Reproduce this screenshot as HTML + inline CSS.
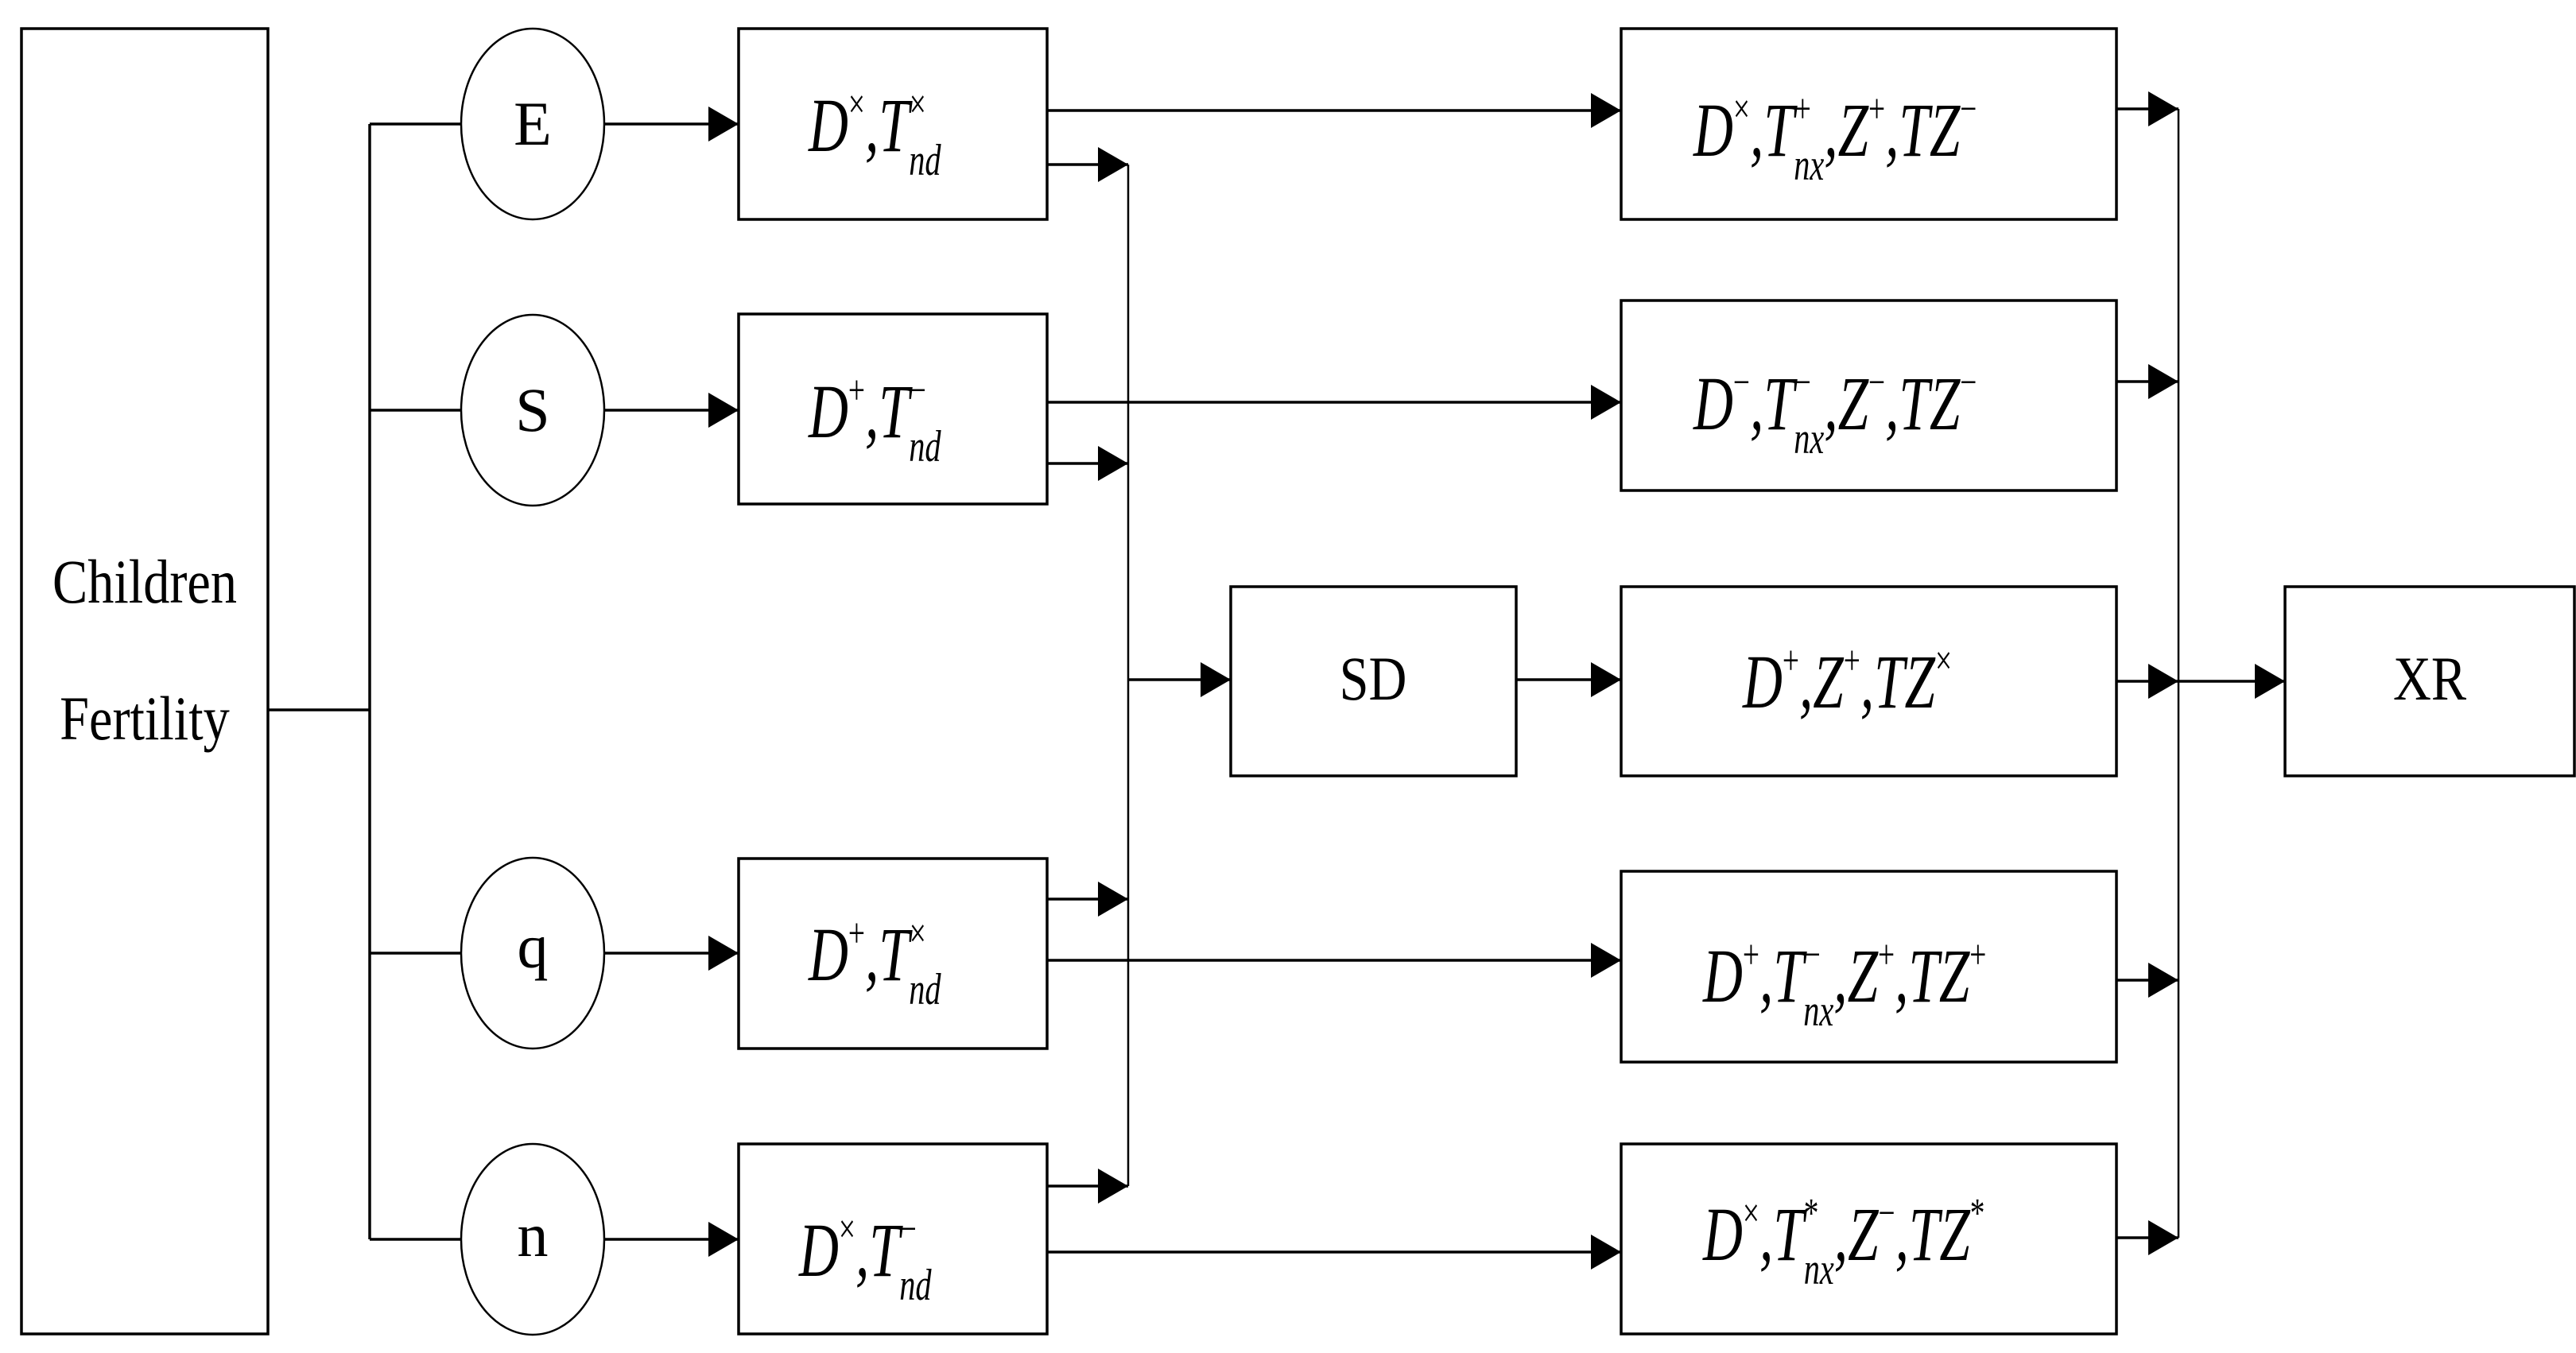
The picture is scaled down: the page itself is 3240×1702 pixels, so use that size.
<!DOCTYPE html>
<html><head><meta charset="utf-8"><style>
html,body{margin:0;padding:0;background:#fff;}
svg{display:block;}
text{font-family:"Liberation Serif",serif;fill:#000;}
</style></head><body>
<svg width="3240" height="1702" viewBox="0 0 3240 1702" xmlns="http://www.w3.org/2000/svg">
<defs>
<marker id="a" markerWidth="38" markerHeight="44" refX="38" refY="22" orient="auto" markerUnits="userSpaceOnUse">
<path d="M0,0 L38,22 L0,44 Z" fill="#000"/>
</marker>
</defs>
<g fill="none" stroke="#000" stroke-width="3.5">
<!-- left box -->
<rect x="27" y="36" width="310" height="1642"/>
<!-- trunk -->
<line x1="337" y1="893" x2="465" y2="893"/>
<line x1="465" y1="156" x2="465" y2="1559"/>
<line x1="465" y1="156" x2="580" y2="156"/>
<line x1="465" y1="516" x2="580" y2="516"/>
<line x1="465" y1="1199" x2="580" y2="1199"/>
<line x1="465" y1="1559" x2="580" y2="1559"/>
<!-- circles -->
<g stroke-width="2.5">
<ellipse cx="670" cy="156" rx="90" ry="120"/>
<ellipse cx="670" cy="516" rx="90" ry="120"/>
<ellipse cx="670" cy="1199" rx="90" ry="120"/>
<ellipse cx="670" cy="1559" rx="90" ry="120"/>
</g>
<line x1="760" y1="156" x2="929" y2="156" marker-end="url(#a)"/>
<line x1="760" y1="516" x2="929" y2="516" marker-end="url(#a)"/>
<line x1="760" y1="1199" x2="929" y2="1199" marker-end="url(#a)"/>
<line x1="760" y1="1559" x2="929" y2="1559" marker-end="url(#a)"/>
<!-- left boxes -->
<rect x="929" y="36" width="388" height="240"/>
<rect x="929" y="395" width="388" height="239"/>
<rect x="929" y="1080" width="388" height="239"/>
<rect x="929" y="1439" width="388" height="239"/>
<!-- bus -->
<line x1="1419" y1="207" x2="1419" y2="1492" stroke-width="2.5"/>
<line x1="1317" y1="207" x2="1419" y2="207" marker-end="url(#a)"/>
<line x1="1317" y1="583" x2="1419" y2="583" marker-end="url(#a)"/>
<line x1="1317" y1="1131" x2="1419" y2="1131" marker-end="url(#a)"/>
<line x1="1317" y1="1492" x2="1419" y2="1492" marker-end="url(#a)"/>
<line x1="1419" y1="855" x2="1548" y2="855" marker-end="url(#a)"/>
<!-- to right boxes -->
<line x1="1317" y1="139" x2="2039" y2="139" marker-end="url(#a)"/>
<line x1="1317" y1="506" x2="2039" y2="506" marker-end="url(#a)"/>
<line x1="1317" y1="1208" x2="2039" y2="1208" marker-end="url(#a)"/>
<line x1="1317" y1="1575" x2="2039" y2="1575" marker-end="url(#a)"/>
<!-- SD -->
<rect x="1548" y="738" width="359" height="238"/>
<line x1="1907" y1="855" x2="2039" y2="855" marker-end="url(#a)"/>
<!-- right boxes -->
<rect x="2039" y="36" width="623" height="240"/>
<rect x="2039" y="378" width="623" height="239"/>
<rect x="2039" y="738" width="623" height="238"/>
<rect x="2039" y="1096" width="623" height="240"/>
<rect x="2039" y="1439" width="623" height="239"/>
<line x1="2740" y1="137" x2="2740" y2="1557" stroke-width="2.5"/>
<line x1="2662" y1="137" x2="2740" y2="137" marker-end="url(#a)"/>
<line x1="2662" y1="480" x2="2740" y2="480" marker-end="url(#a)"/>
<line x1="2662" y1="857" x2="2740" y2="857" marker-end="url(#a)"/>
<line x1="2662" y1="1233" x2="2740" y2="1233" marker-end="url(#a)"/>
<line x1="2662" y1="1557" x2="2740" y2="1557" marker-end="url(#a)"/>
<line x1="2740" y1="857" x2="2874" y2="857" marker-end="url(#a)"/>
<rect x="2874" y="738" width="364" height="238"/>
</g>
<!-- plain labels -->
<g font-size="78" text-anchor="middle">
<text x="182" y="758" transform="translate(182 0) scale(0.85 1) translate(-182 0)">Children</text>
<text x="182" y="930" transform="translate(182 0) scale(0.85 1) translate(-182 0)">Fertility</text>
<text x="670" y="182">E</text>
<text x="670" y="542">S</text>
<text x="670" y="1217">q</text>
<text x="670" y="1580">n</text>
<text x="1727" y="880" transform="translate(1727 0) scale(0.85 1) translate(-1727 0)">SD</text>
<text x="3056" y="880" transform="translate(3056 0) scale(0.85 1) translate(-3056 0)">XR</text>
</g>
<!-- math labels -->
<g font-size="96" font-style="italic">
<g transform="translate(1017 190) scale(0.72 1)"><text x="0" y="0">D<tspan font-size="52" font-style="normal" dy="-42">×</tspan><tspan dy="42">,T</tspan><tspan font-size="52" font-style="normal" dy="-42">×</tspan><tspan font-size="56" dx="-30" dy="72">nd</tspan></text></g>
<g transform="translate(1017 550) scale(0.72 1)"><text x="0" y="0">D<tspan font-size="52" font-style="normal" dy="-42">+</tspan><tspan dy="42">,T</tspan><tspan font-size="52" font-style="normal" dy="-42">−</tspan><tspan font-size="56" dx="-30" dy="72">nd</tspan></text></g>
<g transform="translate(1017 1233) scale(0.72 1)"><text x="0" y="0">D<tspan font-size="52" font-style="normal" dy="-42">+</tspan><tspan dy="42">,T</tspan><tspan font-size="52" font-style="normal" dy="-42">×</tspan><tspan font-size="56" dx="-30" dy="72">nd</tspan></text></g>
<g transform="translate(1005 1605) scale(0.72 1)"><text x="0" y="0">D<tspan font-size="52" font-style="normal" dy="-42">×</tspan><tspan dy="42">,T</tspan><tspan font-size="52" font-style="normal" dy="-42">−</tspan><tspan font-size="56" dx="-30" dy="72">nd</tspan></text></g>

<g transform="translate(2130 196) scale(0.72 1)"><text x="0" y="0">D<tspan font-size="52" font-style="normal" dy="-42">×</tspan><tspan dy="42">,T</tspan><tspan font-size="52" font-style="normal" dy="-42">+</tspan><tspan font-size="56" dx="-30" dy="72">nx</tspan><tspan dy="-30">,Z</tspan><tspan font-size="52" font-style="normal" dy="-42">+</tspan><tspan dy="42">,TZ</tspan><tspan font-size="52" font-style="normal" dy="-42">−</tspan></text></g>
<g transform="translate(2130 540) scale(0.72 1)"><text x="0" y="0">D<tspan font-size="52" font-style="normal" dy="-42">−</tspan><tspan dy="42">,T</tspan><tspan font-size="52" font-style="normal" dy="-42">−</tspan><tspan font-size="56" dx="-30" dy="72">nx</tspan><tspan dy="-30">,Z</tspan><tspan font-size="52" font-style="normal" dy="-42">−</tspan><tspan dy="42">,TZ</tspan><tspan font-size="52" font-style="normal" dy="-42">−</tspan></text></g>
<g transform="translate(2192 890) scale(0.72 1)"><text x="0" y="0">D<tspan font-size="52" font-style="normal" dy="-42">+</tspan><tspan dy="42">,Z</tspan><tspan font-size="52" font-style="normal" dy="-42">+</tspan><tspan dy="42">,TZ</tspan><tspan font-size="52" font-style="normal" dy="-42">×</tspan></text></g>
<g transform="translate(2142 1260) scale(0.72 1)"><text x="0" y="0">D<tspan font-size="52" font-style="normal" dy="-42">+</tspan><tspan dy="42">,T</tspan><tspan font-size="52" font-style="normal" dy="-42">−</tspan><tspan font-size="56" dx="-30" dy="72">nx</tspan><tspan dy="-30">,Z</tspan><tspan font-size="52" font-style="normal" dy="-42">+</tspan><tspan dy="42">,TZ</tspan><tspan font-size="52" font-style="normal" dy="-42">+</tspan></text></g>
<g transform="translate(2142 1585) scale(0.72 1)"><text x="0" y="0">D<tspan font-size="52" font-style="normal" dy="-42">×</tspan><tspan dy="42">,T</tspan><tspan font-size="52" font-style="normal" dy="-42">*</tspan><tspan font-size="56" dx="-26" dy="72">nx</tspan><tspan dy="-30">,Z</tspan><tspan font-size="52" font-style="normal" dy="-42">−</tspan><tspan dy="42">,TZ</tspan><tspan font-size="52" font-style="normal" dy="-42">*</tspan></text></g>
</g>
</svg>
</body></html>
